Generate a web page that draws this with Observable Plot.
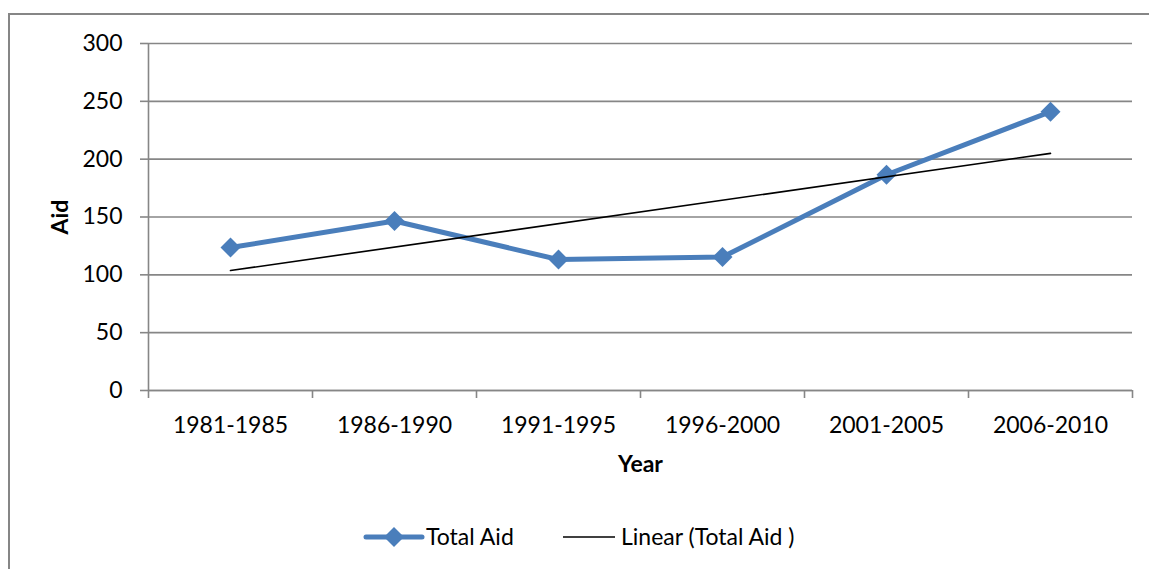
<!DOCTYPE html>
<html><head><meta charset="utf-8">
<script src="https://cdn.jsdelivr.net/npm/d3@7"></script>
<script src="https://cdn.jsdelivr.net/npm/@observablehq/plot@0.6"></script>
<style>
body{margin:0;background:#fff;font-family:Lato,sans-serif;}
#wrap{position:relative;width:1149px;height:569px;overflow:hidden;background:#fff;}
#border{position:absolute;left:8px;top:13px;width:1200px;height:600px;border-left:2px solid #868686;border-top:2px solid #868686;pointer-events:none;}
#chart{position:absolute;left:0;top:0;}
.lg{position:absolute;font-size:23px;line-height:23px;color:#000;white-space:nowrap;}
</style></head><body>
<div id="wrap"><div id="chart"></div><div id="border"></div><div id="legend"></div></div>
<script>
const periods = ["1981-1985","1986-1990","1991-1995","1996-2000","2001-2005","2006-2010"];
const totalAid = [123.6, 146.5, 113.2, 115.4, 186.5, 241];
const yTicks = [0, 50, 100, 150, 200, 250, 300];
const seriesName = "Total Aid";
const trendName = "Linear (Total Aid )";
const xTitle = "Year";
const yTitle = "Aid";

const blue = "#4A7EBB";
const gridColor = "#868686";

const data = periods.map((p, i) => ({idx: i + 1, period: p, aid: totalAid[i]}));
const catPos = data.map(d => d.idx);
const boundaries = d3.range(0, periods.length + 1).map(i => i + 0.5);

const chart = Plot.plot({
  width: 1149,
  height: 500,
  marginLeft: 148,
  marginRight: 17,
  marginTop: 43,
  marginBottom: 110,
  style: {background: "transparent", fontFamily: "Lato, sans-serif", fontSize: "23px", color: "#000"},
  x: {domain: [0.5, periods.length + 0.5], axis: null},
  y: {domain: [0, 300], axis: null},
  marks: [
    Plot.gridY(yTicks, {stroke: gridColor, strokeOpacity: 1, strokeWidth: 1.6}),
    Plot.ruleX([0.5], {stroke: gridColor, strokeWidth: 1.6}),
    Plot.ruleY([0], {stroke: gridColor, strokeWidth: 1.6}),
    Plot.axisY(yTicks, {tickSize: 8, tickPadding: 18, stroke: gridColor, strokeWidth: 1.6, fill: "#000", fontSize: 23, label: null}),
    Plot.axisX(boundaries, {tickSize: 8, tickFormat: () => "", stroke: gridColor, strokeWidth: 1.6, label: null}),
    Plot.axisX(catPos, {tickSize: 0, tickPadding: 26, tickFormat: i => periods[i - 1], fill: "#000", fontSize: 23, label: null}),
    Plot.text([xTitle], {frameAnchor: "bottom", lineAnchor: "middle", dy: 74, fontWeight: "bold", fontSize: 23, fill: "#000"}),
    Plot.text([yTitle], {frameAnchor: "left", textAnchor: "middle", lineAnchor: "middle", dx: -88, rotate: -90, fontWeight: "bold", fontSize: 23, fill: "#000"}),
    Plot.line(data, {x: "idx", y: "aid", stroke: blue, strokeWidth: 5, strokeLinejoin: "round"}),
    Plot.dot(data, {x: "idx", y: "aid", symbol: "diamond2", r: 9, fill: blue, stroke: null}),
    Plot.linearRegressionY(data, {x: "idx", y: "aid", stroke: "#000", strokeWidth: 1.6, ci: 0})
  ]
});
document.getElementById("chart").appendChild(chart);

// legend
const legend = document.getElementById("legend");
legend.innerHTML = `
<svg style="position:absolute;left:363px;top:527px" width="64" height="20">
  <line x1="3" y1="10" x2="59" y2="10" stroke="${blue}" stroke-width="5" stroke-linecap="round"/>
  <path d="M31,0 L41,10 L31,20 L21,10 Z" fill="${blue}"/>
</svg>
<div class="lg" style="left:426px;top:525px">${seriesName}</div>
<svg style="position:absolute;left:563px;top:527px" width="52" height="20">
  <line x1="0" y1="10" x2="52" y2="10" stroke="#000" stroke-width="1.6"/>
</svg>
<div class="lg" style="left:621px;top:525px">${trendName}</div>`;
</script>
</body></html>
